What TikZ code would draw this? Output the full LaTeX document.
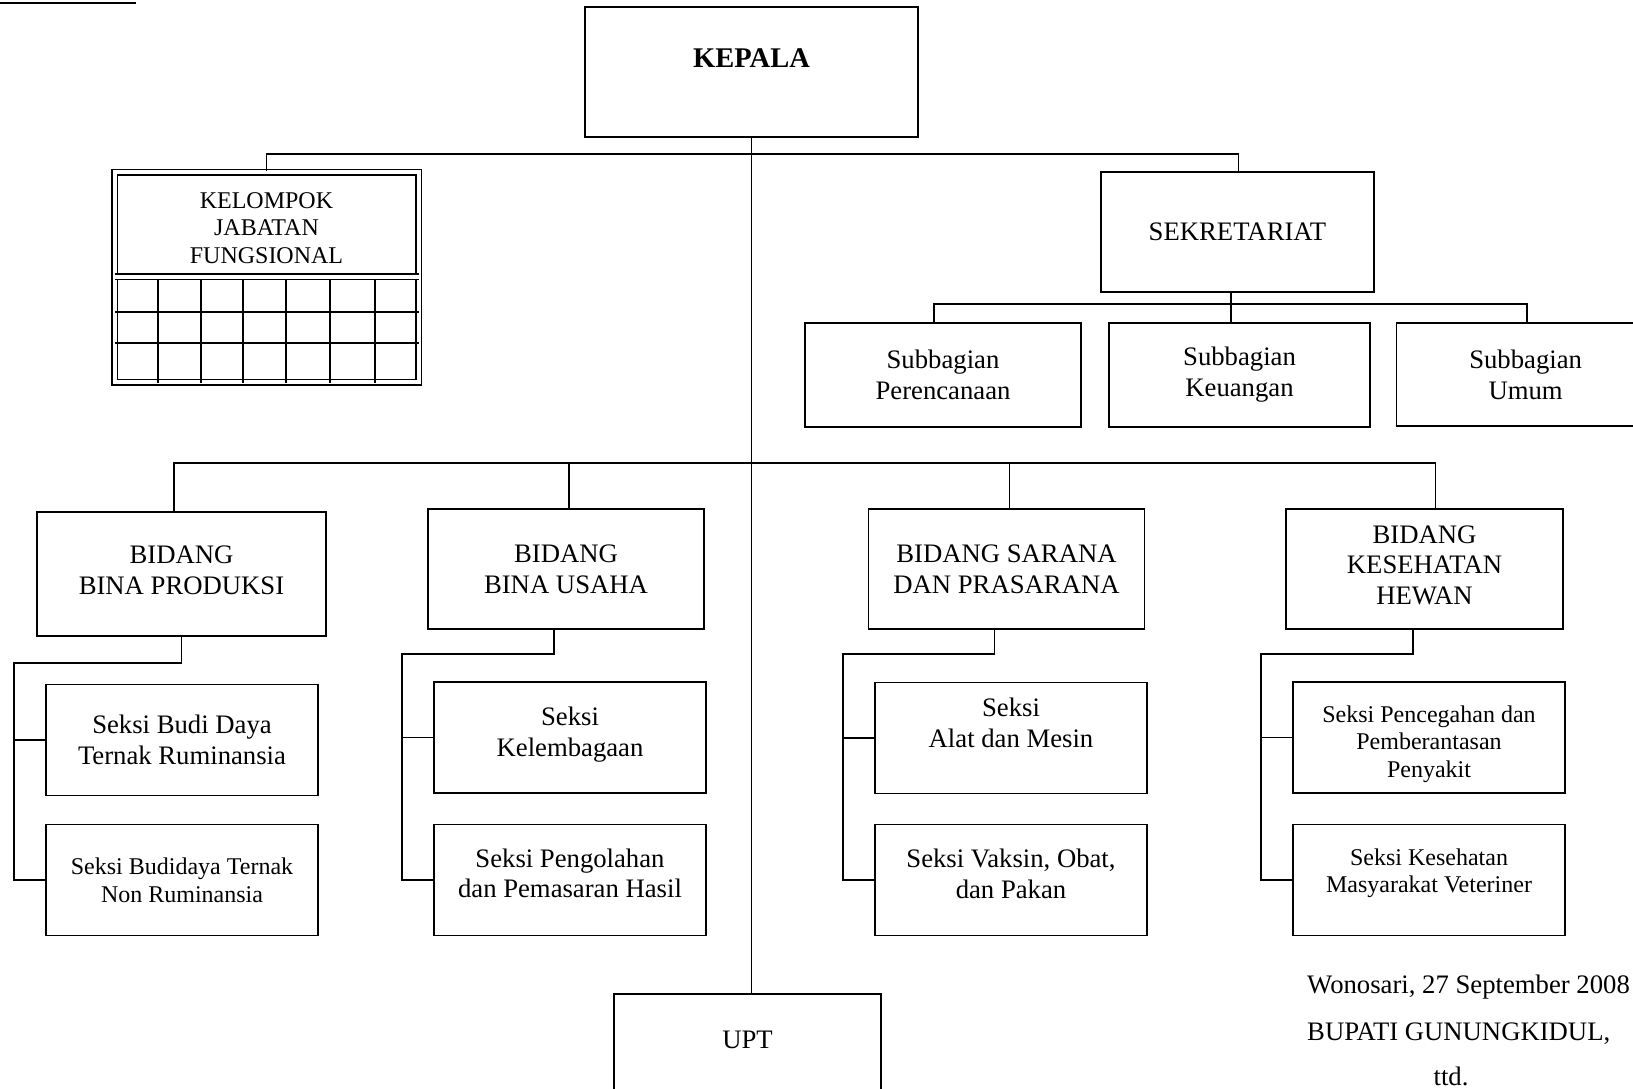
\documentclass[tikz,border=0pt]{standalone}
\usepackage{fontspec}
\setmainfont{Liberation Serif}
\newcommand{\bigtext}{\fontsize{26.7pt}{30.8pt}\selectfont}
\newcommand{\smalltext}{\fontsize{24pt}{27.6pt}\selectfont}

\begin{document}
\begin{tikzpicture}[x=1pt, y=-1pt,
    orgbox/.style={draw, line width=1.7pt, align=center, inner sep=0pt, font=\bigtext},
    seksi/.style={orgbox, minimum width=272pt, minimum height=111pt},
    conn/.style={line width=1.4pt}]
    \useasboundingbox (0,0) rectangle (1633,1089);

    % Header rule
    \draw[line width=2pt] (0,3.3) -- (136,3.3);

    % Kepala
    \node[orgbox, line width=2pt, minimum width=333pt, minimum height=130pt, text depth=28pt, font=\fontsize{28.5pt}{32pt}\selectfont\bfseries] (kepala) at (751.5,72) {KEPALA};

    % Kelompok Jabatan Fungsional
    \node[draw, double, double distance=3.9pt, line width=1.7pt, minimum width=304pt, minimum height=210pt] (kjf) at (266.6,277.3) {};
    \node[font=\smalltext, align=center] (kjftext) at (266.5,228) {KELOMPOK\\JABATAN\\FUNGSIONAL};
    \draw[double, double distance=3.6pt, line width=1.7pt] (115,276.7) -- (419,276.7);
    \foreach \gx in {158,201,243,286,330,375}
        \draw[line width=1.5pt] (\gx,279) -- (\gx,383);
    \foreach \gy in {312,343}
        \draw[line width=1.5pt] (115,\gy) -- (419,\gy);

    % Sekretariat
    \node[orgbox, minimum width=272.5pt, minimum height=120pt] (sekretariat) at (1237.4,232) {SEKRETARIAT};
    \node[orgbox, minimum width=276pt, minimum height=104pt] (subPerencanaan) at (943,375) {Subbagian\\Perencanaan};
    \node[orgbox, minimum width=261pt, minimum height=104pt] (subKeuangan) at (1239.5,375) {Subbagian\\Keuangan};
    \node[orgbox, minimum width=258pt, minimum height=103pt] (subUmum) at (1525.6,374.5) {Subbagian\\Umum};

    % Bidang
    \node[orgbox, minimum width=289pt, minimum height=124pt, text depth=8pt] (bidang1) at (181.5,574) {BIDANG\\BINA PRODUKSI};
    \node[orgbox, minimum width=276pt, minimum height=120pt] (bidang2) at (566,569) {BIDANG\\BINA USAHA};
    \node[orgbox, minimum width=276pt, minimum height=120pt] (bidang3) at (1006.5,569) {BIDANG SARANA\\DAN PRASARANA};
    \node[orgbox, minimum width=277pt, minimum height=120pt, text depth=8pt] (bidang4) at (1424.5,569) {BIDANG\\KESEHATAN\\HEWAN};

    % Seksi
    \node[seksi] (seksiA1) at (182,740) {Seksi Budi Daya\\Ternak Ruminansia};
    \node[seksi, font=\smalltext] (seksiA2) at (182,880) {Seksi Budidaya Ternak\\Non Ruminansia};
    \node[seksi, text depth=11.5pt] (seksiB1) at (570,737.5) {Seksi\\Kelembagaan};
    \node[seksi, text depth=13.5pt] (seksiB2) at (570,880) {Seksi Pengolahan\\dan Pemasaran Hasil};
    \node[seksi, text depth=30pt] (seksiC1) at (1011,738) {Seksi\\Alat dan Mesin};
    \node[seksi, text depth=12pt] (seksiC2) at (1011,880) {Seksi Vaksin, Obat,\\dan Pakan};
    \node[seksi, font=\smalltext, text height=85pt] (seksiD1) at (1429,737.5) {Seksi Pencegahan dan\\Pemberantasan\\Penyakit};
    \node[seksi, font=\smalltext, text depth=18.4pt] (seksiD2) at (1429,880) {Seksi Kesehatan\\Masyarakat Veteriner};

    % UPT
    \node[orgbox, anchor=north, minimum width=267pt, minimum height=120pt, text depth=28pt] (upt) at (747.5,993) {UPT};

    % Connectors
    \coordinate (topbus) at (751.5,154);
    \coordinate (sekbus) at (1231,304);
    \coordinate (midbus) at (751.5,463);
    \draw[conn] (kjf.north) |- (topbus) -| ([xshift=1pt]sekretariat.north);
    \draw[conn] (kepala.south) -- (kepala.south |- upt.north);
    \draw[conn] (sekretariat.south -| sekbus) -- (sekbus);
    \draw[conn] ([xshift=-9pt]subPerencanaan.north) |- (sekbus) -| ([xshift=1.4pt]subUmum.north);
    \draw[conn] (sekbus) -- (sekbus |- subKeuangan.north);
    \draw[conn] ([xshift=-7.5pt]bidang1.north) |- (midbus) -| ([xshift=11pt]bidang4.north);
    \draw[conn] ([xshift=3pt]bidang2.north) -- ([xshift=3pt]bidang2.north |- midbus);
    \draw[conn] ([xshift=3pt]bidang3.north) -- ([xshift=3pt]bidang3.north |- midbus);
    \foreach \bd/\sa/\sb/\dx/\gap in {bidang1/seksiA1/seksiA2/0pt/26, bidang2/seksiB1/seksiB2/-12pt/24,
            bidang3/seksiC1/seksiC2/-12pt/24, bidang4/seksiD1/seksiD2/-11.5pt/24}
    {
        \draw[conn] ([xshift=\dx]\bd.south) -- ++(0,\gap) -| ([xshift=-31pt]\sb.west) -- (\sb.west);
        \draw[conn] ([xshift=-31pt]\sa.west) -- (\sa.west);
    }

    % Signature
    \node[font=\bigtext, anchor=base west, inner sep=0pt] (wonosari) at (1307,993) {Wonosari, 27 September 2008};
    \node[font=\bigtext, anchor=base west, inner sep=0pt] (bupati) at (1307,1040) {BUPATI GUNUNGKIDUL,};
    \node[font=\bigtext, anchor=base, inner sep=0pt] (ttd) at (1451,1085) {ttd.};
\end{tikzpicture}
\end{document}
